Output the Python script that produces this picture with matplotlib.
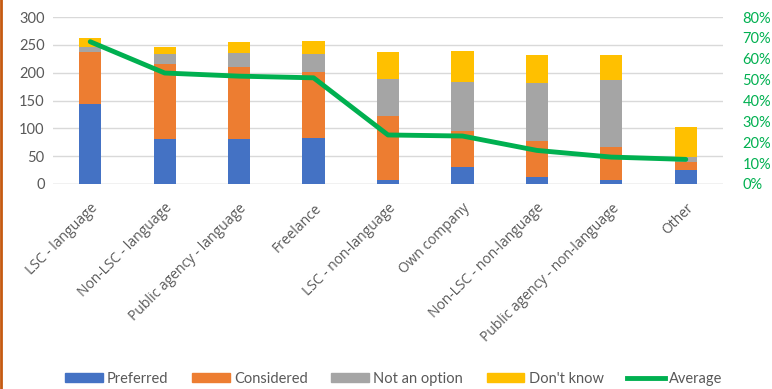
import matplotlib.pyplot as plt
from matplotlib.lines import Line2D
from matplotlib.ticker import PercentFormatter

plt.rcParams['font.family'] = ['Lato', 'DejaVu Sans']

categories = ['LSC - language', 'Non-LSC - language', 'Public agency - language',
              'Freelance', 'LSC - non-language', 'Own company',
              'Non-LSC - non-language', 'Public agency - non-language', 'Other']
preferred = [143, 81, 80, 83, 8, 31, 13, 8, 26]
considered = [94, 135, 130, 119, 114, 64, 64, 59, 14]
not_option = [10, 18, 26, 32, 67, 89, 105, 120, 8]
dont_know = [15, 13, 19, 23, 48, 55, 50, 45, 54]
average = [68.2, 53.2, 51.7, 50.9, 23.5, 23.0, 16.1, 12.9, 11.8]

series = [('Preferred', preferred, '#4472C4'),
          ('Considered', considered, '#ED7D31'),
          ('Not an option', not_option, '#A5A5A5'),
          ("Don't know", dont_know, '#FFC000')]

fig = plt.figure(figsize=(7.72, 3.89), dpi=100)
ax = fig.add_axes([0.0687, 0.527, 0.8678, 0.429])
x = range(len(categories))

bottom = [0] * len(categories)
handles = []
for name, vals, color in series:
    ax.bar(x, vals, width=0.3, bottom=bottom, color=color, zorder=2, label=name)
    bottom = [b + v for b, v in zip(bottom, vals)]
    handles.append(plt.Rectangle((0, 0), 1, 1, color=color, label=name))

ax.set_ylim(0, 300)
ax.set_yticks(range(0, 301, 50))
ax.set_xlim(-0.5, len(categories) - 0.5)
ax.grid(axis='y', color='#D9D9D9', linewidth=1, zorder=0)
for s in ax.spines.values():
    s.set_visible(False)
ax.tick_params(axis='y', length=0, labelsize=10.5, labelcolor='#595959', pad=6)
ax.tick_params(axis='x', length=0, pad=12)
ax.set_xticks(list(x))
ax.set_xticklabels(categories, rotation=45, ha='right', rotation_mode='anchor',
                   fontsize=10, color='#595959', family=['Open Sans', 'DejaVu Sans'])
ax.axhline(0, color='#D9D9D9', linewidth=1, zorder=1)

ax2 = ax.twinx()
ax2.plot(list(x), average, color='#00B050', linewidth=3.5, solid_capstyle='round', zorder=3)
ax2.set_ylim(0, 80)
ax2.set_yticks(range(0, 81, 10))
ax2.yaxis.set_major_formatter(PercentFormatter(decimals=0))
ax2.tick_params(axis='y', length=0, labelsize=10.5, labelcolor='#00B050', pad=14)
for s in ax2.spines.values():
    s.set_visible(False)

handles.append(Line2D([0], [0], color='#00B050', linewidth=3.5, label='Average'))
fig.legend(handles=handles, loc='lower center', bbox_to_anchor=(0.51, -0.025), ncol=5,
           frameon=False, fontsize=10.5, handlelength=2.6, handleheight=0.5,
           handletextpad=0.3, columnspacing=1.6, labelcolor='#595959')

# thin orange border on the left edge
fig.add_artist(Line2D([0.001, 0.001], [0, 1], color='#C55A11', linewidth=2,
                      transform=fig.transFigure))

fig.savefig('out.png', dpi=100)
